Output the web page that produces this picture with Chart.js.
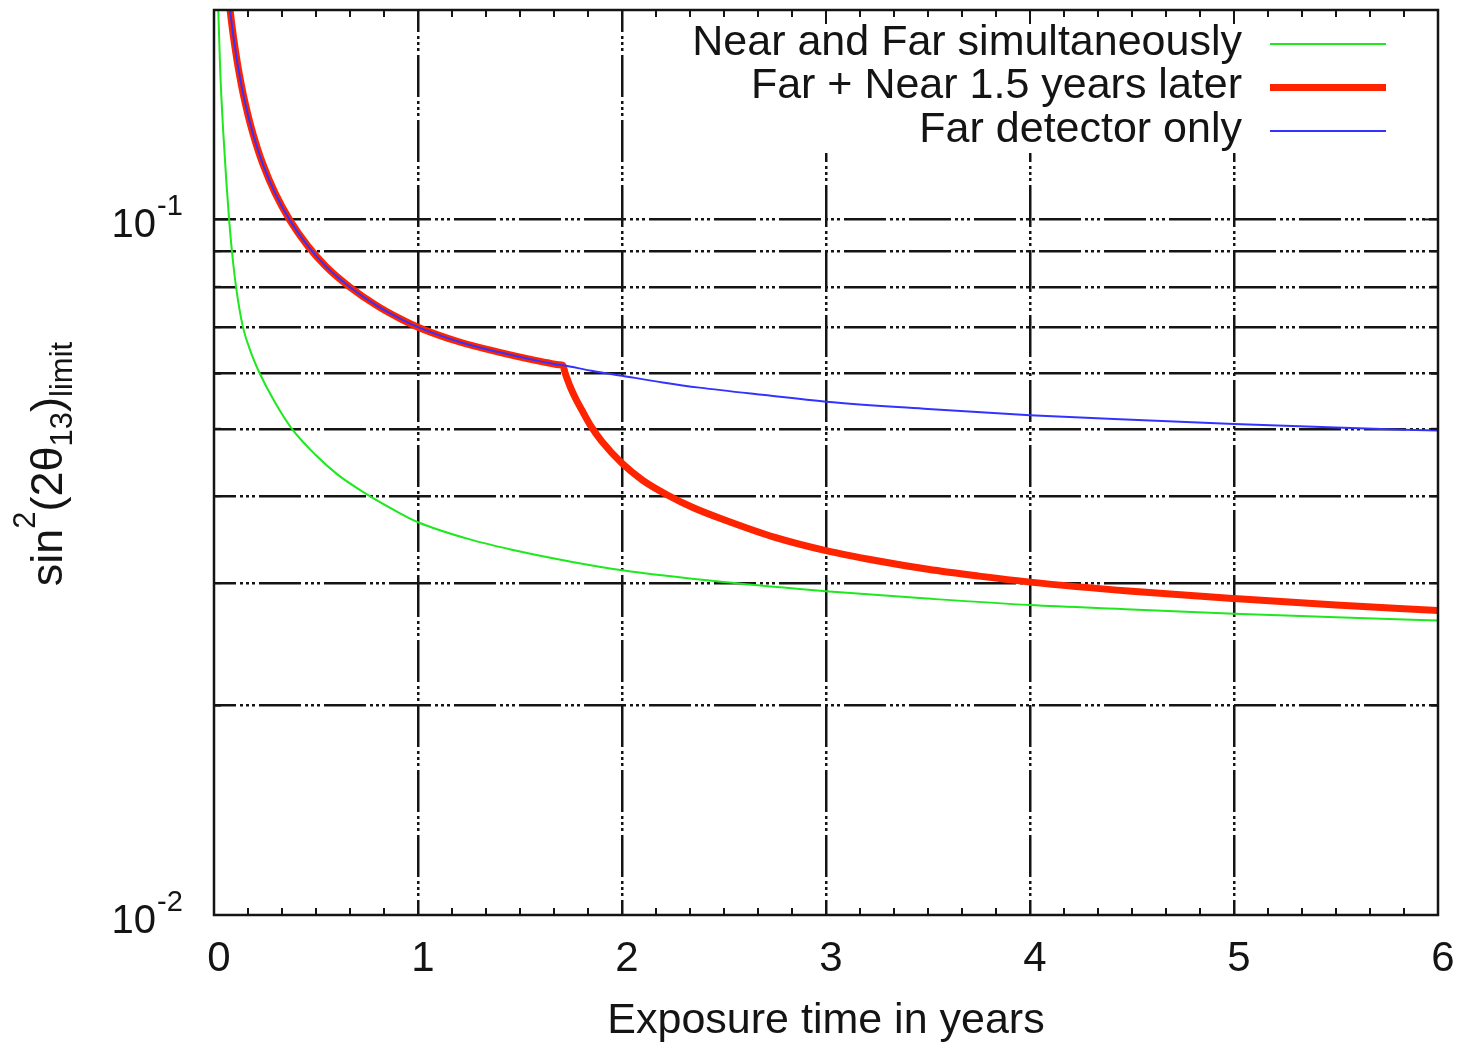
<!DOCTYPE html>
<html>
<head>
<meta charset="utf-8">
<title>sin2(2theta13) limit vs exposure time</title>
<script src="https://cdn.jsdelivr.net/npm/chart.js@4.4.1/dist/chart.umd.min.js"></script>
<style>
    html, body { margin: 0; padding: 0; background: #fff; }
    canvas { display: block; }
</style>
</head>
<body>
<canvas id="limitChart" width="1460" height="1047"></canvas>
<script>
// exposure time in years -> sin^2(2 theta_13) limit
var farOnlyYears = [0.07, 0.078, 0.09, 0.105, 0.118, 0.135, 0.15, 0.176, 0.21, 0.24, 0.3, 0.373, 0.461, 0.55, 0.667, 0.8, 0.912, 1.0, 1.2, 1.4, 1.6, 1.65, 1.69, 1.71, 1.85, 2.0, 2.2, 2.38, 2.7, 3.0, 3.5, 4.0, 4.5, 5.0, 5.5, 6.0];
var farOnlyLimit = [0.212, 0.201, 0.188, 0.175, 0.1656, 0.1556, 0.1482, 0.1378, 0.1273, 0.1200, 0.1090, 0.0996, 0.0915, 0.0855, 0.0799, 0.0751, 0.0720, 0.0700, 0.0667, 0.0644, 0.0625, 0.0621, 0.0618, 0.0617, 0.0606, 0.0596, 0.0583, 0.0573, 0.0559, 0.0547, 0.0534, 0.0523, 0.0515, 0.0508, 0.0502, 0.0497];

// once the near detector is switched on
var nearStartYear = 1.71;
var laterNearYears = [1.72, 1.735, 1.75, 1.775, 1.8, 1.85, 1.9, 2.0, 2.1, 2.22, 2.35, 2.5, 2.75, 3.0, 3.25, 3.5, 3.75, 4.0, 4.5, 5.0, 5.5, 6.0];
var laterNearLimit = [0.0603, 0.0586, 0.0571, 0.0551, 0.0534, 0.0503, 0.0480, 0.0446, 0.0422, 0.0402, 0.0385, 0.0370, 0.0349, 0.0334, 0.0323, 0.0314, 0.0307, 0.0301, 0.0292, 0.0285, 0.0279, 0.0274];

var bothYears = [0.015, 0.021, 0.03, 0.045, 0.06, 0.074, 0.088, 0.108, 0.142, 0.18, 0.225, 0.3, 0.382, 0.5, 0.6, 0.74, 0.912, 1.0, 1.25, 1.5, 1.75, 2.0, 2.5, 3.0, 3.5, 4.0, 4.5, 5.0, 5.5, 6.0];
var bothLimit = [0.235, 0.200, 0.165, 0.134, 0.114, 0.100, 0.090, 0.080, 0.070, 0.0645, 0.060, 0.0545, 0.0500, 0.0458, 0.0431, 0.0404, 0.0378, 0.0367, 0.0347, 0.0333, 0.0322, 0.0313, 0.0301, 0.0292, 0.0285, 0.0279, 0.0275, 0.0271, 0.0268, 0.0265];

var yearTicks = [0, 1, 2, 3, 4, 5, 6];
var minorPerYear = 6;
var limitMajorTicks = [0.01, 0.1];
var limitMajorLabels = [['10', '-2'], ['10', '-1']];
var limitMinorTicks = [0.02, 0.03, 0.04, 0.05, 0.06, 0.07, 0.08, 0.09, 0.2];

var FONT = '"Liberation Sans", Arial, Helvetica, sans-serif';
var INK = '#141414';
var GRID_DASH = [42, 4, 3, 3, 3, 3, 3, 4];

function toPoints(xs, ys) {
    return xs.map(function (x, i) { return { x: x, y: ys[i] }; });
}

function isWholeYear(v) {
    return Math.abs(v - Math.round(v)) < 1e-6;
}

var laterNearPoints = toPoints(farOnlyYears, farOnlyLimit)
    .filter(function (p) { return p.x <= nearStartYear; })
    .concat(toPoints(laterNearYears, laterNearLimit));

function line(ctx, x1, y1, x2, y2) {
    ctx.beginPath();
    ctx.moveTo(x1, y1);
    ctx.lineTo(x2, y2);
    ctx.stroke();
}

// gnuplot style: boxed frame, inward ticks on all sides, key at top right
var gnuplotDecor = {
    id: 'gnuplotDecor',
    beforeDatasetsDraw: function (chart) {
        var a = chart.chartArea;
        var ctx = chart.ctx;
        ctx.save();
        ctx.fillStyle = '#fff';
        ctx.fillRect(660, a.top, a.right - 660, 143);
        ctx.restore();
    },
    afterDatasetsDraw: function (chart) {
        var a = chart.chartArea;
        var ctx = chart.ctx;
        var xs = chart.scales.x;
        var ys = chart.scales.y;

        ctx.save();
        ctx.strokeStyle = INK;
        ctx.lineWidth = 2;

        xs.ticks.forEach(function (t) {
            var px = xs.getPixelForValue(t.value);
            var len = isWholeYear(t.value) ? 14 : 7;
            line(ctx, px, a.bottom, px, a.bottom - len);
            line(ctx, px, a.top, px, a.top + len);
        });

        ys.ticks.forEach(function (t) {
            var py = ys.getPixelForValue(t.value);
            var len = limitMajorTicks.indexOf(t.value) >= 0 ? 14 : 7;
            line(ctx, a.left, py, a.left + len, py);
            line(ctx, a.right, py, a.right - len, py);
        });

        ctx.lineWidth = 2.5;
        ctx.strokeRect(a.left, a.top, a.right - a.left, a.bottom - a.top);

        // y tick labels with exponents
        ctx.fillStyle = INK;
        ctx.textBaseline = 'alphabetic';
        limitMajorTicks.forEach(function (v, i) {
            var py = ys.getPixelForValue(v);
            ctx.font = '40px ' + FONT;
            ctx.textAlign = 'right';
            ctx.fillText(limitMajorLabels[i][0], 156, py + 18);
            ctx.font = '29px ' + FONT;
            ctx.textAlign = 'left';
            ctx.fillText(limitMajorLabels[i][1], 157, py - 4);
        });

        // rotated y title: sin^2(2theta_13)_limit
        var parts = [
            { t: 'sin', size: 45, dy: 0 },
            { t: '2', size: 31, dy: -27 },
            { t: '(2\u03B8', size: 45, dy: 0 },
            { t: '13', size: 31, dy: 10 },
            { t: ')', size: 45, dy: 0 },
            { t: 'limit', size: 31, dy: 10 }
        ];
        var total = 0;
        parts.forEach(function (p) {
            ctx.font = p.size + 'px ' + FONT;
            p.w = ctx.measureText(p.t).width;
            total += p.w;
        });
        ctx.save();
        ctx.translate(62, 464 + total / 2);
        ctx.rotate(-Math.PI / 2);
        ctx.textAlign = 'left';
        var cx = 0;
        parts.forEach(function (p) {
            ctx.font = p.size + 'px ' + FONT;
            ctx.fillText(p.t, cx, p.dy);
            cx += p.w;
        });
        ctx.restore();

        // key
        chart.data.datasets.forEach(function (ds, i) {
            var y = 43 + i * 43.5;
            ctx.font = '43px ' + FONT;
            ctx.textAlign = 'right';
            ctx.textBaseline = 'middle';
            ctx.fillStyle = INK;
            ctx.fillText(ds.label, 1242, y);
            ctx.strokeStyle = ds.borderColor;
            ctx.lineWidth = ds.borderWidth;
            line(ctx, 1270, y + 1, 1386, y + 1);
        });

        ctx.restore();
    }
};

new Chart(document.getElementById('limitChart'), {
    type: 'line',
    data: {
        datasets: [{
            label: 'Near and Far simultaneously',
            data: toPoints(bothYears, bothLimit),
            borderColor: '#1ee81e',
            borderWidth: 2,
            order: 2
        }, {
            label: 'Far + Near 1.5 years later',
            data: laterNearPoints,
            borderColor: '#ff2400',
            borderWidth: 7,
            order: 1
        }, {
            label: 'Far detector only',
            data: toPoints(farOnlyYears, farOnlyLimit),
            borderColor: '#3333ff',
            borderWidth: 2,
            order: 0
        }]
    },
    options: {
        responsive: false,
        animation: false,
        devicePixelRatio: 1,
        layout: { padding: { top: 10, right: 22, bottom: 0, left: 0 } },
        elements: {
            point: { radius: 0 },
            line: { cubicInterpolationMode: 'monotone', fill: false }
        },
        plugins: {
            legend: { display: false },
            tooltip: { enabled: false }
        },
        scales: {
            x: {
                type: 'linear',
                min: 0,
                max: 6,
                afterBuildTicks: function (scale) {
                    var ticks = [];
                    for (var i = 0; i < yearTicks.length - 1; i++) {
                        for (var j = 0; j < minorPerYear; j++) {
                            ticks.push({ value: yearTicks[i] + j / minorPerYear });
                        }
                    }
                    ticks.push({ value: yearTicks[yearTicks.length - 1] });
                    scale.ticks = ticks;
                },
                afterFit: function (scale) {
                    scale.height = 132;
                    scale.paddingLeft = 0;
                    scale.paddingRight = 0;
                },
                ticks: {
                    autoSkip: false,
                    maxRotation: 0,
                    minRotation: 0,
                    padding: 19,
                    labelOffset: 5,
                    color: INK,
                    font: { family: FONT, size: 42 },
                    callback: function (v) {
                        return isWholeYear(v) ? String(Math.round(v)) : '';
                    }
                },
                grid: {
                    drawTicks: false,
                    color: INK,
                    lineWidth: function (ctx) {
                        var v = ctx.tick ? ctx.tick.value : 0;
                        return isWholeYear(v) && v > 0 && v < 6 ? 2.5 : 0;
                    }
                },
                border: { display: false, dash: GRID_DASH, dashOffset: 20 },
                title: {
                    display: true,
                    text: 'Exposure time in years',
                    color: INK,
                    font: { family: FONT, size: 43 },
                    padding: 0
                }
            },
            y: {
                type: 'logarithmic',
                min: 0.01,
                max: 0.2,
                afterBuildTicks: function (scale) {
                    scale.ticks = limitMajorTicks.concat(limitMinorTicks)
                        .sort(function (a, b) { return a - b; })
                        .map(function (v) { return { value: v }; });
                },
                afterFit: function (scale) { scale.width = 214; },
                ticks: { display: false },
                grid: {
                    drawTicks: false,
                    color: INK,
                    lineWidth: function (ctx) {
                        var v = ctx.tick ? ctx.tick.value : 0;
                        return v > 0.011 && v < 0.19 ? 2.5 : 0;
                    }
                },
                border: { display: false, dash: GRID_DASH, dashOffset: 20 }
            }
        }
    },
    plugins: [gnuplotDecor]
});
</script>
</body>
</html>
